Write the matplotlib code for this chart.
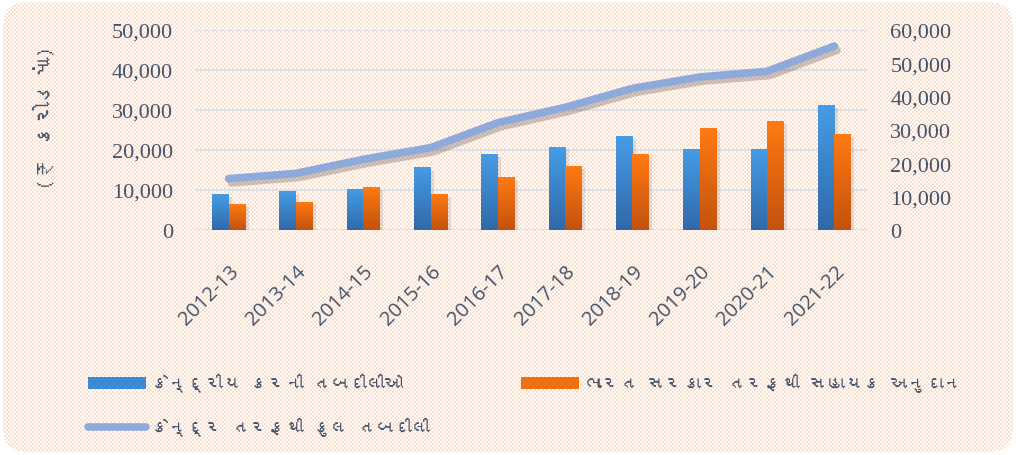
import numpy as np
import matplotlib
matplotlib.use("Agg")
import matplotlib.pyplot as plt
from matplotlib import font_manager
from matplotlib.ft2font import FT2Font
from matplotlib.colors import LinearSegmentedColormap
from matplotlib.patches import Patch
from matplotlib.lines import Line2D
import matplotlib.patheffects as pe

# ---------------- data ----------------
years = ["2012-13", "2013-14", "2014-15", "2015-16", "2016-17",
         "2017-18", "2018-19", "2019-20", "2020-21", "2021-22"]
tax_devolution = [9000, 9800, 10250, 15800, 18900, 20700, 23400, 20250, 20250, 31150]
grants = [6500, 7100, 10800, 9000, 13250, 16000, 18900, 25400, 27150, 23900]
total_transfers = [15400, 17000, 21200, 24700, 32200, 36800, 42500, 45900, 47600, 55200]

label_tax = "કેન્દ્રીય કરની તબદીલીઓ"
label_grants = "ભારત સરકાર તરફથી સહાયક અનુદાન"
label_total = "કેન્દ્ર તરફથી કુલ તબદીલી"
ylabel = "(₹ કરોડમાં)"

left_ticks = [0, 10000, 20000, 30000, 40000, 50000]
right_ticks = [0, 10000, 20000, 30000, 40000, 50000, 60000]

# ---------------- fonts ----------------
guj_font = None
for f in font_manager.fontManager.ttflist:
    try:
        cm = FT2Font(f.fname).get_charmap()
        if 0x0A95 in cm and 0x0AB0 in cm:
            guj_font = f.name
            break
    except Exception:
        pass
guj_family = ([guj_font] if guj_font else []) + ["Noto Sans", "DejaVu Sans"]

text_color = "#44546a"
W, H = 1016, 456
fig = plt.figure(figsize=(W / 100, H / 100), dpi=100)

# ---------------- background texture with rounded corners ----------------
yy, xx = np.mgrid[0:H, 0:W]
checker = ((yy // 2 + xx // 2) % 2).astype(float)
peach = np.array([251, 222, 204]) / 255.0
white = np.array([1.0, 1.0, 1.0])
img = np.where(checker[..., None] > 0.5, peach, white)
x0, x1, y0, y1, r = 3, 1012, 3, 452, 20
inside = (xx >= x0) & (xx <= x1) & (yy >= y0) & (yy <= y1)
for cx, cy in [(x0 + r, y0 + r), (x1 - r, y0 + r), (x0 + r, y1 - r), (x1 - r, y1 - r)]:
    corner = ((xx < x0 + r) if cx == x0 + r else (xx > x1 - r)) & \
             ((yy < y0 + r) if cy == y0 + r else (yy > y1 - r))
    inside &= ~(corner & ((xx - cx) ** 2 + (yy - cy) ** 2 > r ** 2))
img[~inside] = white
fig.figimage(img[::-1], xo=0, yo=0, zorder=-10)

# ---------------- axes ----------------
ax = fig.add_axes([195 / W, 1 - 231 / H, (868 - 195) / W, (231 - 31) / H], zorder=1)
ax.patch.set_alpha(0)
ax2 = ax.twinx()
ax2.set_zorder(2)
ax2.patch.set_alpha(0)

x = np.arange(len(years))
bw = 0.245
blue_cmap = LinearSegmentedColormap.from_list("b", ["#3069a8", "#469ce6"])
orange_cmap = LinearSegmentedColormap.from_list("o", ["#c2520e", "#ff7a12"])
grad = np.linspace(0, 1, 256).reshape(-1, 1)

shadow = [pe.SimplePatchShadow(offset=(2.5, -2), shadow_rgbFace="#7a6a60", alpha=0.18), pe.Normal()]
bars1 = ax.bar(x - bw / 2, tax_devolution, bw, color="#3d86d0", zorder=2, path_effects=shadow)
bars2 = ax.bar(x + bw / 2, grants, bw, color="#e8690f", zorder=2, path_effects=shadow)
for bars, cmap in [(bars1, blue_cmap), (bars2, orange_cmap)]:
    for b in bars:
        bx, bwid, bh = b.get_x(), b.get_width(), b.get_height()
        im = ax.imshow(grad, extent=[bx, bx + bwid, 0, bh], origin="lower",
                       aspect="auto", cmap=cmap, zorder=2.1, interpolation="bilinear")
        im.set_clip_path(b)

ax.set_xlim(-0.5, len(years) - 0.5)
ax.set_ylim(0, 50000)
ax.set_yticks(left_ticks)
ax.set_yticklabels([f"{v:,}" for v in left_ticks])
ax.yaxis.grid(True, color="#dfe1e6", linewidth=1.6, zorder=0)
ax.set_axisbelow(True)

ax2.plot(x, total_transfers, color="#8eaadb", linewidth=5.5, solid_capstyle="round",
         solid_joinstyle="round", zorder=3,
         path_effects=[pe.SimpleLineShadow(offset=(2, -3), shadow_color="#5a4a40", alpha=0.3),
                       pe.Normal()])
ax2.set_ylim(0, 60000)
ax2.set_yticks(right_ticks)
ax2.set_yticklabels([f"{v:,}" for v in right_ticks])

for a in (ax, ax2):
    for s in a.spines.values():
        s.set_visible(False)
    a.tick_params(axis="both", length=0)
    for lbl in a.get_yticklabels():
        lbl.set_fontfamily("Liberation Serif")
        lbl.set_fontsize(16)
        lbl.set_color(text_color)
ax.tick_params(axis="y", pad=16)
ax2.tick_params(axis="y", pad=16)

ax.set_xticks(x)
ax.set_xticklabels(years, rotation=45, ha="right", va="top", rotation_mode="anchor",
                   fontsize=14.5, color=text_color, family=["Open Sans", "DejaVu Sans"])
ax.tick_params(axis="x", pad=22)

fig.text(45 / W, 1 - 118 / H, ylabel, rotation=90, ha="center", va="center",
         fontsize=16, fontweight="bold", color=text_color, family=guj_family)

# ---------------- legend ----------------
h_blue = Patch(facecolor="#3d8ad6", edgecolor="none")
h_orange = Patch(facecolor="#f0700f", edgecolor="none")
h_line = Line2D([], [], color="#8eaadb", linewidth=5.5, solid_capstyle="round")
leg_kw = dict(frameon=False, handlelength=3.2, handleheight=0.7,
              handletextpad=0.3, borderpad=0, borderaxespad=0, labelcolor=text_color,
              prop={"family": guj_family, "size": 13})
l1 = fig.legend([h_blue, h_line], [label_tax, label_total], loc="upper left",
                bbox_to_anchor=(88 / W, 1 - 374 / H), labelspacing=1.4, **leg_kw)
l2 = fig.legend([h_orange], [label_grants], loc="upper left",
                bbox_to_anchor=(521 / W, 1 - 374 / H), **leg_kw)

fig.savefig("out.png", dpi=100)
